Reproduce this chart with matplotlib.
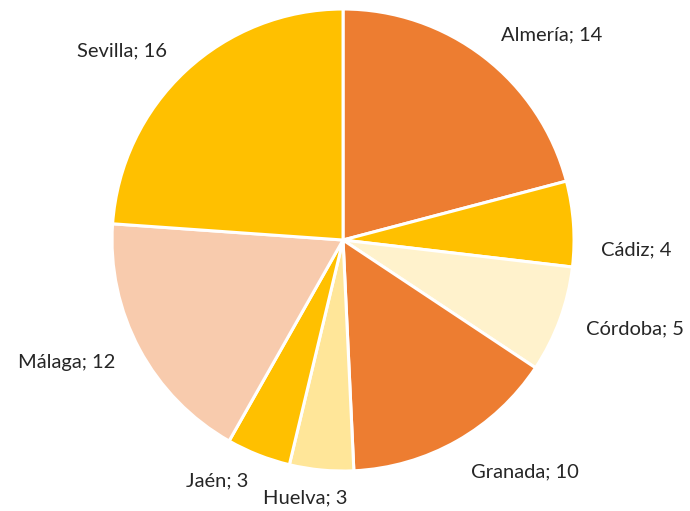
import matplotlib.pyplot as plt

provinces = ['Almería', 'Cádiz', 'Córdoba', 'Granada', 'Huelva', 'Jaén', 'Málaga', 'Sevilla']
values = [14, 4, 5, 10, 3, 3, 12, 16]
colors = ['#ED7D31', '#FFC000', '#FFF2CC', '#ED7D31', '#FFE699', '#FFC000', '#F8CBAD', '#FFC000']

plt.rcParams['font.family'] = ['Lato', 'DejaVu Sans']

fig = plt.figure(figsize=(6.9, 5.11), dpi=100)
ax = fig.add_axes([0, 0, 1, 1])

labels = [f'{p}; {v}' for p, v in zip(provinces, values)]
wedges, texts = ax.pie(values, labels=labels, colors=colors, startangle=90,
                       counterclock=False, radius=1, labeldistance=1.12,
                       wedgeprops=dict(edgecolor='white', linewidth=2.2),
                       textprops=dict(fontsize=14.5, color='#262626'))

# small nudges so labels sit where the original's best-fit placement put them
texts[1].set_y(texts[1].get_position()[1] - 0.12)   # Cádiz
texts[3].set_y(texts[3].get_position()[1] - 0.03)   # Granada
texts[4].set_ha('center')                           # Huelva
texts[4].set_x(texts[4].get_position()[0] - 0.06)

ax.set_xlim(-1.485, 1.502)
ax.set_ylim(-1.173, 1.039)
ax.set_aspect('auto')
ax.axis('off')

fig.savefig('out.png', dpi=100, facecolor='white')
